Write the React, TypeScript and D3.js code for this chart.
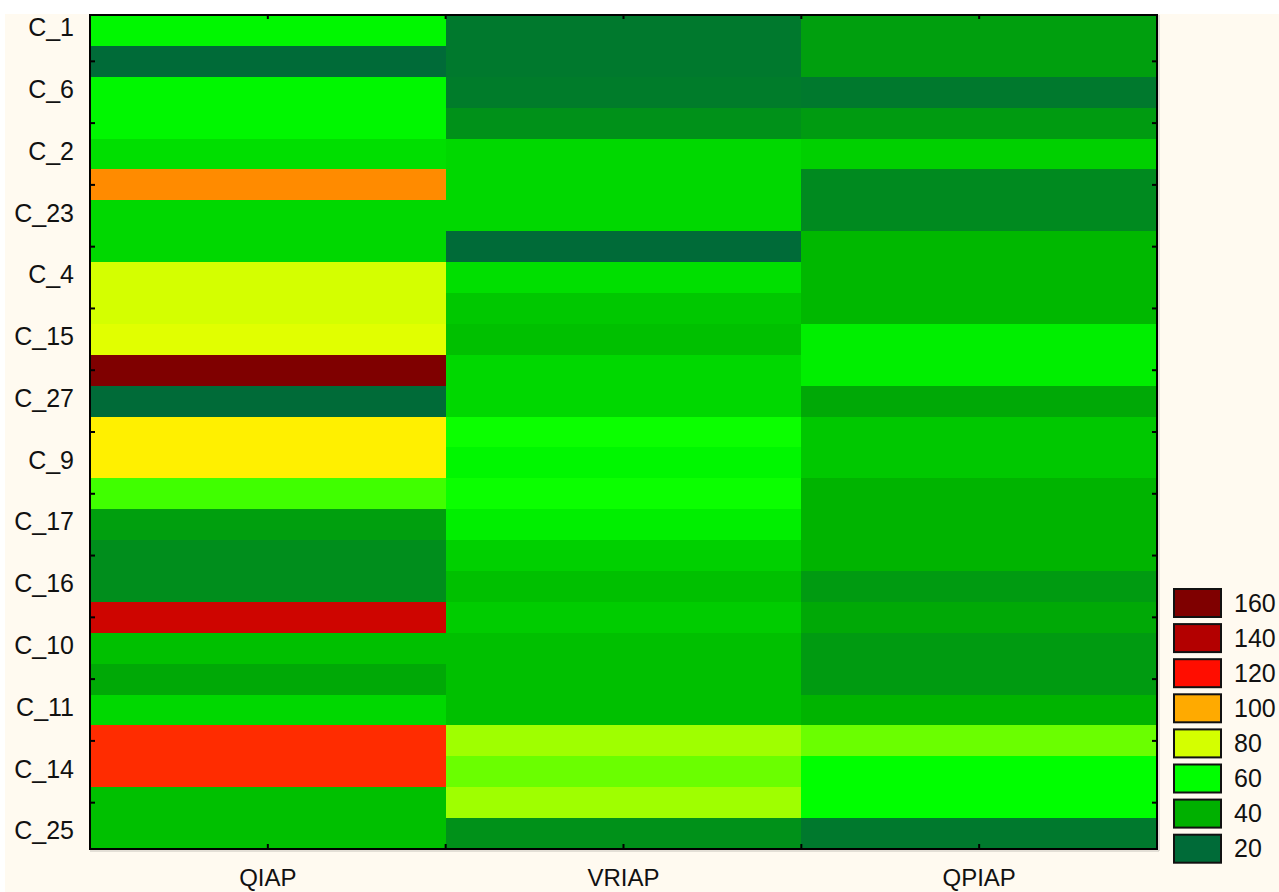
import React from "react";
import * as d3 from "d3";

const columns = ["QIAP", "VRIAP", "QPIAP"];
const rowLabels = [
  "C_1", "", "C_6", "", "C_2", "", "C_23", "", "C_4", "", "C_15", "", "C_27", "",
  "C_9", "", "C_17", "", "C_16", "", "C_10", "", "C_11", "", "C_14", "", "C_25",
];
const qiapValues = [
  58, 20, 58, 58, 52, 104, 50, 50, 80, 80, 82, 160, 20, 89,
  89, 66, 35, 30, 30, 133, 44, 38, 50, 116, 116, 44, 44,
];
const vriapValues = [
  24, 24, 25, 31, 50, 50, 50, 20, 52, 46, 44, 50, 50, 61,
  58, 61, 56, 48, 44, 47, 44, 44, 44, 75, 70, 75, 31,
];
const qpiapValues = [
  35, 35, 24, 34, 48, 29, 29, 42, 42, 42, 56, 56, 38, 46,
  46, 41, 41, 41, 34, 38, 34, 34, 41, 70, 60, 60, 24,
];
const legendValues = [160, 140, 120, 100, 80, 60, 40, 20];
const legendColors = [
  "#7f0000", "#b30000", "#ff0d00", "#ffaa00", "#d4ff00", "#00ff00", "#00b000", "#006b38",
];

const seriesByColumn: Record<string, number[]> = {
  QIAP: qiapValues,
  VRIAP: vriapValues,
  QPIAP: qpiapValues,
};

const FONT = "'Liberation Sans', Arial, sans-serif";

// piecewise colour ramp: RGB blending, except the yellow→orange segment which blends in HSL
const stops = [...legendValues].reverse();
const stopColors = [...legendColors].reverse();
const segmentScale = d3.scaleLinear().domain(stops).range(d3.range(stops.length)).clamp(true);
function colorFor(v: number): string {
  const p = segmentScale(v);
  const i = Math.min(Math.floor(p), stops.length - 2);
  const t = p - i;
  const interp = stops[i] === 80 ? d3.interpolateHsl : d3.interpolateRgb;
  return interp(stopColors[i], stopColors[i + 1])(t);
}

export default function App() {
  const W = 1279;
  const H = 892;
  const left = 90;
  const right = 1157;
  const top = 15;
  const bottom = 849;

  const x = d3.scaleBand<string>().domain(columns).range([left, right]);
  const y = d3
    .scaleBand<number>()
    .domain(d3.range(rowLabels.length))
    .range([top, bottom]);

  const xb = x.bandwidth();
  const yb = y.bandwidth();

  const xTicks: number[] = [];
  columns.forEach((c, i) => {
    if (i > 0) xTicks.push(x(c)!);
    xTicks.push(x(c)! + xb / 2);
  });
  const yTicks = d3
    .range(rowLabels.length)
    .filter((i) => i % 2 === 1)
    .map((i) => y(i)! + yb / 2);

  return (
    <svg
      width={W}
      height={H}
      style={{ position: "absolute", left: 0, top: 0, display: "block" }}
      fontFamily={FONT}
    >
      <rect x={0} y={0} width={W} height={H} fill="#ffffff" />
      <rect x={5} y={14} width={W - 5} height={H - 14} fill="#fffaf0" />

      {/* cells */}
      <g shapeRendering="crispEdges">
        {columns.map((c) =>
          seriesByColumn[c].map((v, i) => (
            <rect
              key={c + i}
              x={x(c)!}
              y={y(i)!}
              width={xb + 0.5}
              height={yb + 0.5}
              fill={colorFor(v)}
            />
          ))
        )}
      </g>

      {/* frame shadow */}
      <line x1={right + 2} x2={right + 2} y1={top} y2={bottom + 2} stroke="#c8c4bc" strokeWidth={1} />
      <line x1={left} x2={right + 2} y1={bottom + 2} y2={bottom + 2} stroke="#c8c4bc" strokeWidth={1} />
      {/* frame */}
      <rect
        x={left}
        y={top}
        width={right - left}
        height={bottom - top}
        fill="none"
        stroke="#000"
        strokeWidth={2}
      />

      {/* y ticks */}
      {yTicks.map((t, i) => (
        <g key={"yt" + i} stroke="#000" strokeWidth={2}>
          <line x1={left} x2={left + 5} y1={t} y2={t} />
          <line x1={right - 5} x2={right} y1={t} y2={t} />
        </g>
      ))}
      {/* x ticks */}
      {xTicks.map((t, i) => (
        <g key={"xt" + i} stroke="#000" strokeWidth={2}>
          <line x1={t} x2={t} y1={top} y2={top + 4} />
          <line x1={t} x2={t} y1={bottom - 5} y2={bottom} />
        </g>
      ))}

      {/* row labels */}
      {rowLabels.map((l, i) =>
        l ? (
          <text
            key={"rl" + i}
            x={74}
            y={y(i)! + yb / 2 - 3}
            dy="0.35em"
            textAnchor="end"
            fontSize={25}
            fill="#111"
          >
            {l}
          </text>
        ) : null
      )}

      {/* column labels */}
      {columns.map((c) => (
        <text
          key={"cl" + c}
          x={x(c)! + xb / 2}
          y={886}
          textAnchor="middle"
          fontSize={24}
          fill="#111"
        >
          {c}
        </text>
      ))}

      {/* legend */}
      {legendValues.map((v, i) => {
        const ly = 589 + i * 35.1;
        return (
          <g key={"lg" + v}>
            <rect
              x={1174}
              y={ly}
              width={47}
              height={28}
              fill={legendColors[i]}
              stroke="#111"
              strokeWidth={2}
            />
            <text x={1234} y={ly + 14} dy="0.35em" fontSize={25} fill="#111">
              {v}
            </text>
          </g>
        );
      })}
    </svg>
  );
}
